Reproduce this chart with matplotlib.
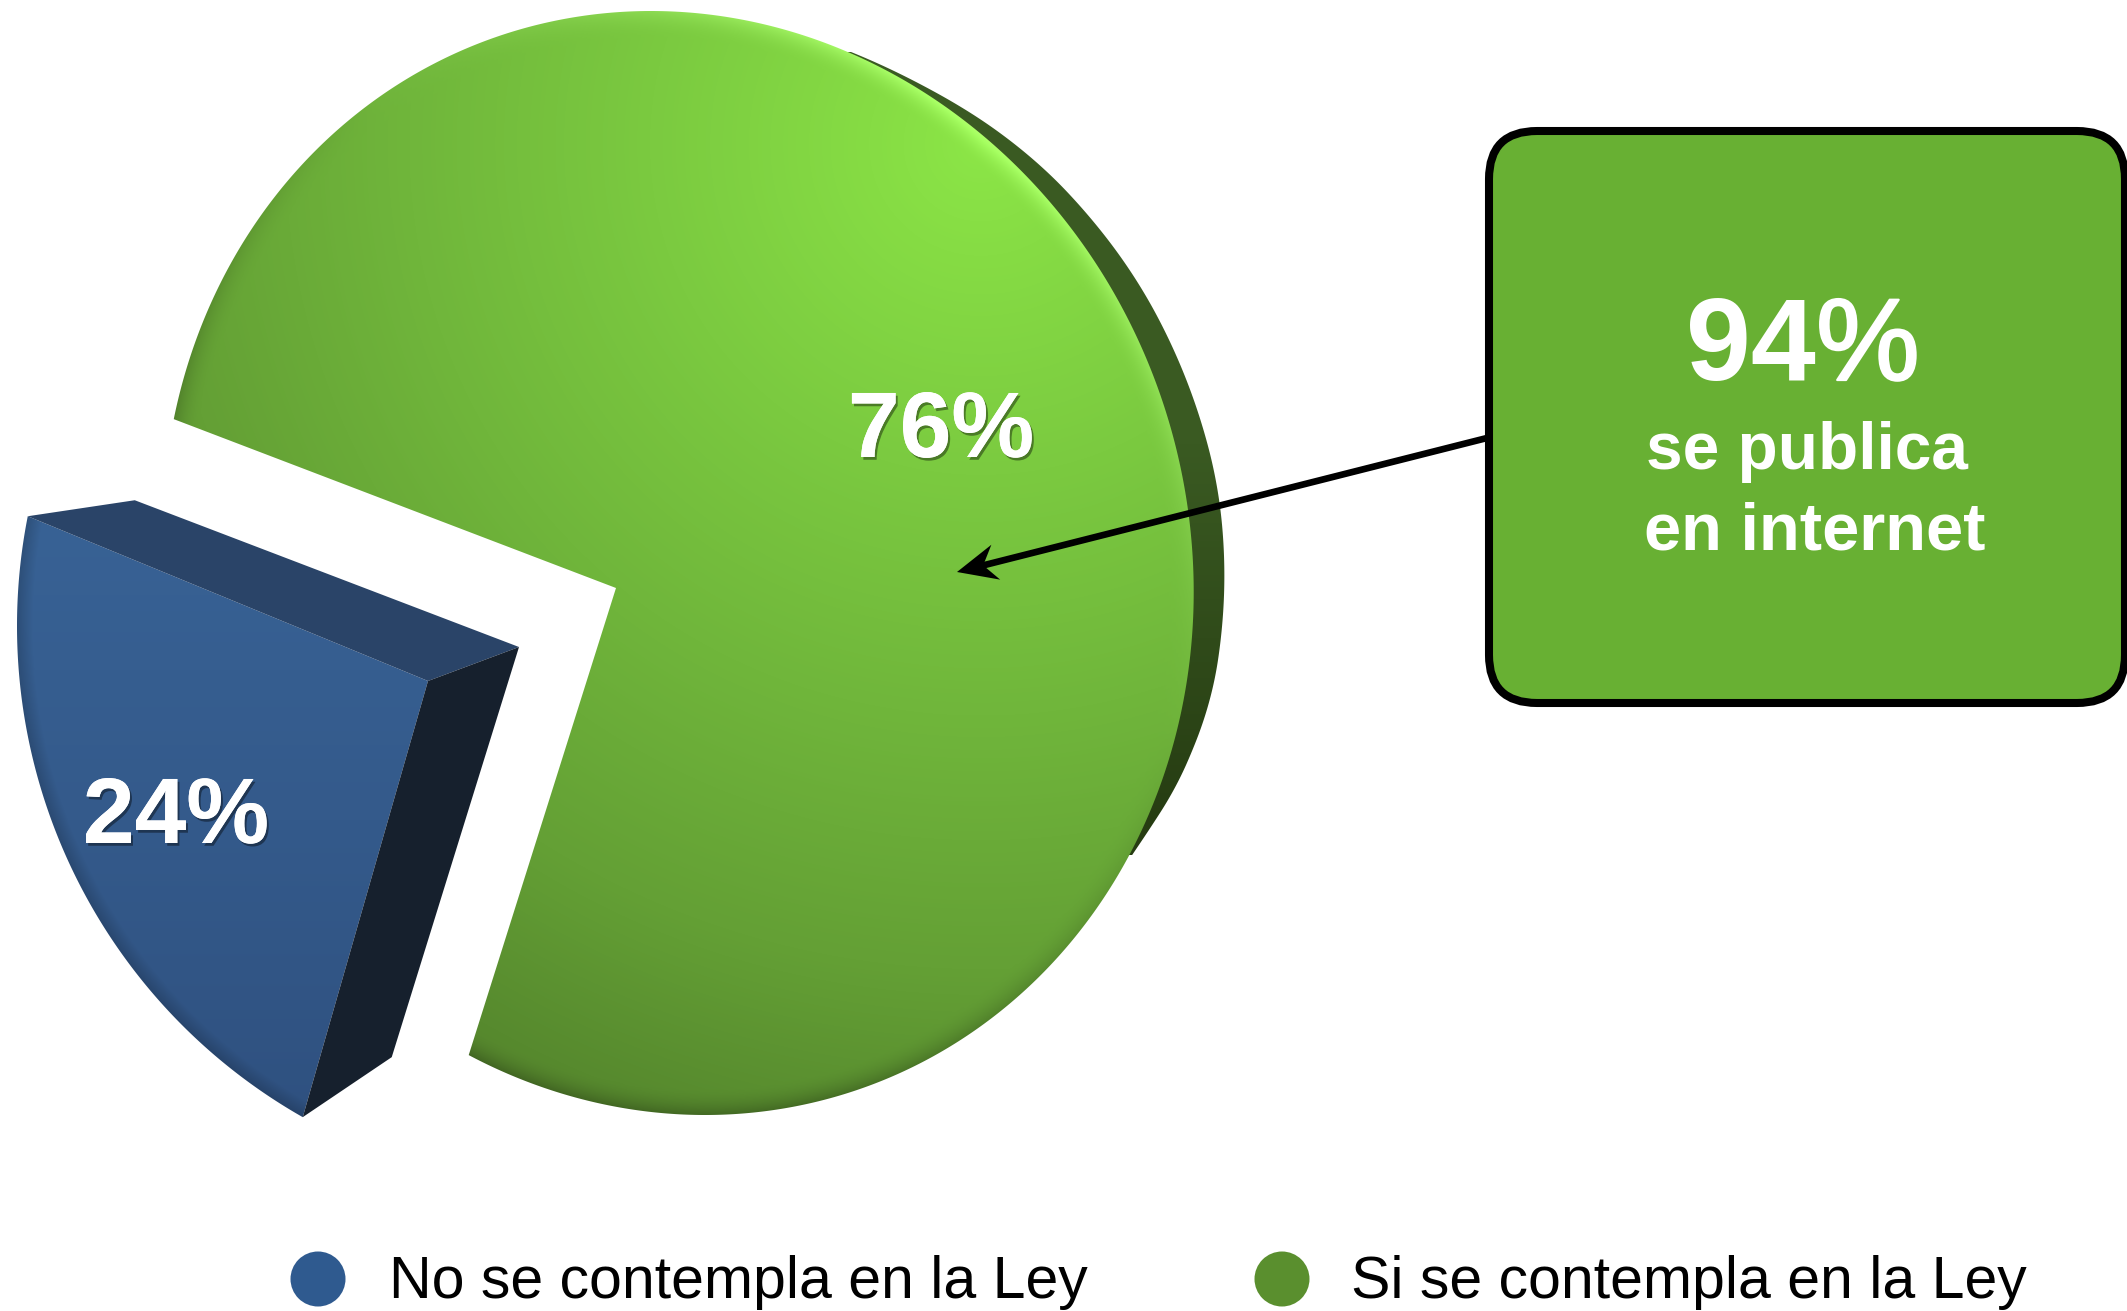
import numpy as np
import matplotlib
matplotlib.use("Agg")
import matplotlib.pyplot as plt
import matplotlib.patheffects as pe
from matplotlib.colors import LinearSegmentedColormap
from matplotlib.patches import Polygon, FancyBboxPatch, Circle

# data
slice_labels = ["No se contempla en la Ley", "Si se contempla en la Ley"]
slice_shares = [24, 76]
callout_share = 94
callout_lines = ["se publica", "en internet"]

plt.rcParams['font.family'] = ['Liberation Sans', 'DejaVu Sans']

W, H = 2127, 1311
fig = plt.figure(figsize=(W / 100, H / 100), dpi=100)
ax = fig.add_axes([0, 0, 1, 1])

Y, X = np.mgrid[0:H, 0:W] + 0.5
EXTENT = (0, W, H, 0)

# the pie is seen at an angle, so both slices are drawn around one mid direction
MID_ANGLE = 205.8
BLUE_TILT = 1.19
GREEN_TILT = 1.13
half_span = np.radians(slice_shares[0] * 3.6 / 2)


def screen_dirs(phi, tilt):
    # phi is the true pie angle from the slice middle
    a = np.arctan2(tilt * np.sin(phi), np.cos(phi)) + np.radians(MID_ANGLE)
    return np.cos(a), -np.sin(a)


def ray_hit(apex, dx, dy, centre, a, b, shear):
    # ray from the apex to x = cx + a cos t - shear sin t, y = cy - b sin t
    py = (centre[1] - apex[1]) / b
    px = (apex[0] - centre[0] + shear * py) / a
    qy = -dy / b
    qx = (dx + shear * qy) / a
    A = qx**2 + qy**2
    B = px * qx + py * qy
    C = px**2 + py**2 - 1
    r = (-B + np.sqrt(B**2 - A * C)) / A
    return apex[0] + r * dx, apex[1] + r * dy


GREEN_APEX = (616, 588)
GREEN_C = (678, 563)
GREEN_A, GREEN_B, GREEN_SHEAR = 515, 552, 27

BLUE_APEX = (428, 681)
BLUE_C = (582, 626)
BLUE_R = 565

# dark back edge of the green slice
ys = np.linspace(52, 855, 400)
st = (GREEN_C[1] - ys) / GREEN_B
edge_x = GREEN_C[0] + GREEN_A * np.sqrt(1 - st**2) - GREEN_SHEAR * st
width = np.interp(ys, [52, 90, 150, 276, 488, 574, 700, 804, 855], [0, 12, 24, 30, 33, 31, 27, 14, 0])
width = np.convolve(np.r_[np.zeros(20), width, np.zeros(20)], np.ones(41) / 41, mode='valid')
band_pts = np.r_[np.c_[edge_x + width, ys], np.c_[edge_x[::-1] - 30, ys[::-1]]]
band = Polygon(band_pts, closed=True, fc='none', ec='none')
ax.add_patch(band)
band_cmap = LinearSegmentedColormap.from_list("band", ["#3A5A22", "#3A5A22", "#263C12"])
im = ax.imshow(np.clip((Y - 57) / 775, 0, 1), cmap=band_cmap, vmin=0, vmax=1, extent=EXTENT, aspect='auto')
im.set_clip_path(band)

# green slice
phi = np.linspace(half_span, 2 * np.pi - half_span, 600)
dx, dy = screen_dirs(phi, GREEN_TILT)
gx, gy = ray_hit(GREEN_APEX, dx, dy, GREEN_C, GREEN_A, GREEN_B, GREEN_SHEAR)
green_pts = np.r_[[GREEN_APEX], np.c_[gx, gy]]
green = Polygon(green_pts, closed=True, fc='none', ec='none')
ax.add_patch(green)

green_cmap = LinearSegmentedColormap.from_list("green", [
    (0, "#547F2C"), (0.08, "#578A2E"), (0.25, "#64A035"), (0.48, "#70B63B"),
    (0.7, "#7BCA40"), (0.9, "#86DC44"), (1, "#8CE647")])
u = np.clip(1 - np.hypot(X - 981, Y - 144) / 1100, 0, 1)
rgb = green_cmap(u)[..., :3]
# soft rim: bright towards the top right, dark everywhere else
st_g = (GREEN_C[1] - Y) / GREEN_B
ct_g = (X - GREEN_C[0] + GREEN_SHEAR * st_g) / GREEN_A
rho = np.hypot(st_g, ct_g)
rim = np.clip(1 - (1 - rho) / 0.05, 0, 1)**2
facing = np.clip((ct_g * 0.6 + st_g * 0.8) / np.maximum(rho, 1e-6), -1, 1)
rgb = rgb + (rim * np.clip(facing, 0, 1)**3 * np.array([[[0.14]]]).squeeze())[..., None]
rgb = rgb * (1 - rim * np.clip(-facing + 0.35, 0, 1) * 0.24)[..., None]
im = ax.imshow(np.clip(rgb, 0, 1), extent=EXTENT, aspect='auto')
im.set_clip_path(green)

# blue slice with its extruded top and side
phi = np.linspace(-half_span, half_span, 200)
dx, dy = screen_dirs(phi, BLUE_TILT)
bx, by = ray_hit(BLUE_APEX, dx, dy, BLUE_C, BLUE_R, BLUE_R, 0)
blue_pts = np.r_[[BLUE_APEX], np.c_[bx, by]]
upper = np.array([bx[0], by[0]])  # upper end of the arc
lower = np.array([bx[-1], by[-1]])  # lower end of the arc
apex = np.array(BLUE_APEX, dtype=float)
back_top = apex + (91, -34)
back_low = lower + (89, -60)
ax.add_patch(Polygon([upper, upper + (107, -16), back_top, apex], closed=True, fc="#2A4468", ec='none'))
ax.add_patch(Polygon([apex, back_top, back_low, lower], closed=True, fc="#16202D", ec='none'))

blue = Polygon(blue_pts, closed=True, fc='none', ec='none')
ax.add_patch(blue)
blue_cmap = LinearSegmentedColormap.from_list("blue", ["#386295", "#345A8B", "#2F5180"])
shade = blue_cmap(np.clip((Y - 520) / 600, 0, 1))[..., :3]
edge_dist = BLUE_R - np.hypot(X - BLUE_C[0], Y - BLUE_C[1])
shade = shade * (0.82 + 0.18 * np.clip(edge_dist / 16, 0, 1))[..., None]
im = ax.imshow(shade, extent=EXTENT, aspect='auto')
im.set_clip_path(blue)

# percent labels on the slices
soft = [pe.withSimplePatchShadow(offset=(1.5, -2), shadow_rgbFace='black', alpha=0.4), pe.Normal()]
ax.text(176, 843, f"{slice_shares[0]}%", fontsize=67, fontweight='bold', color='white',
        ha='center', va='baseline', path_effects=soft)
ax.text(941, 457, f"{slice_shares[1]}%", fontsize=67, fontweight='bold', color='white',
        ha='center', va='baseline', path_effects=soft)

# callout box
box = FancyBboxPatch((1489, 131), 636, 572, boxstyle="round,pad=0,rounding_size=48",
                     fc="#68B033", ec='black', lw=5.8, zorder=5)
ax.add_patch(box)
ax.text(1686, 380, str(callout_share), fontsize=84, fontweight='bold', color='white',
        ha='left', va='baseline', zorder=6)
ax.text(1816, 380, "%", fontsize=84, color='white', ha='left', va='baseline', zorder=6,
        path_effects=[pe.withStroke(linewidth=1.6, foreground='white')])
ax.text(1646, 469, callout_lines[0], fontsize=47.3, fontweight='bold', color='white',
        ha='left', va='baseline', zorder=6)
ax.text(1644, 549, callout_lines[1], fontsize=48.2, fontweight='bold', color='white',
        ha='left', va='baseline', zorder=6)

# arrow from the box into the green slice
tail = np.array([1487, 438.0])
tip = np.array([957, 572.0])
along = (tip - tail) / np.hypot(*(tip - tail))
across = np.array([-along[1], along[0]])
ax.plot(*zip(tail, tip - along * 25), color='black', lw=4.8, solid_capstyle='butt', zorder=4)
ax.add_patch(Polygon([tip, tip - along * 40 + across * 18, tip - along * 27, tip - along * 40 - across * 18],
                     closed=True, fc='black', ec='none', zorder=4))

# legend
ax.add_patch(Circle((318, 1279), 27.5, fc="#2F5A8F", ec='none'))
ax.add_patch(Circle((1282, 1279), 27.5, fc="#5A8F2E", ec='none'))
ax.text(389, 1298, slice_labels[0], fontsize=42.5, color='black', ha='left', va='baseline')
ax.text(1351, 1298, slice_labels[1], fontsize=42.5, color='black', ha='left', va='baseline')

ax.set_xlim(0, W)
ax.set_ylim(H, 0)
ax.axis('off')
fig.savefig("out.png", dpi=100, facecolor='white')
